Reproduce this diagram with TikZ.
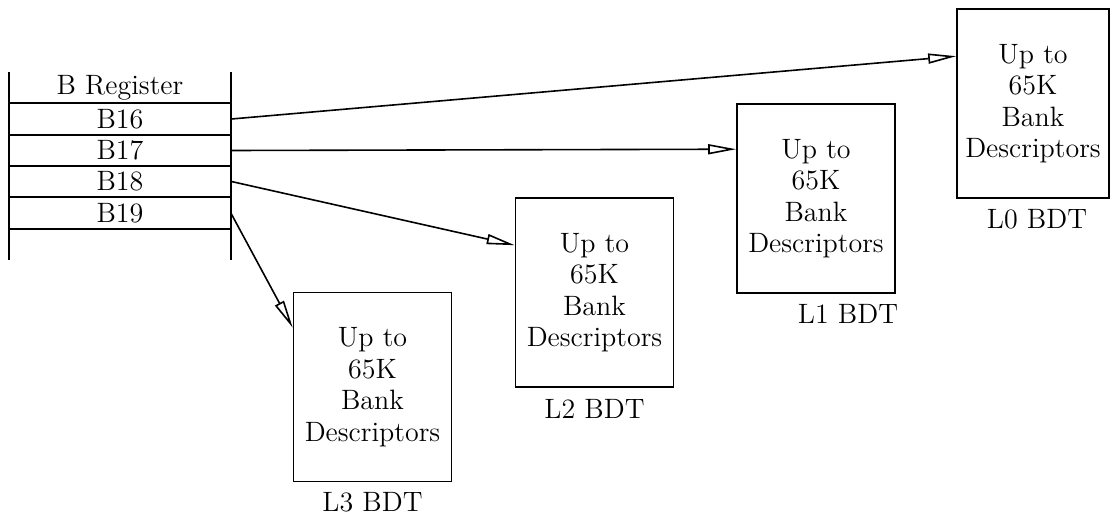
\documentclass[tikz,border=0pt]{standalone}
\usetikzlibrary{arrows.meta,calc}
\begin{document}
\begin{tikzpicture}[x=0.5pt,y=-0.5pt,
  rule/.style={line width=0.8pt},
  txt/.style={font=\fontsize{14}{15.75}\selectfont},
  bdt/.style={draw, rule, txt, align=center, inner sep=0pt,
    minimum width=79pt, minimum height=94.5pt},
  regrow/.style={txt, inner sep=0pt, minimum width=111pt, minimum height=15.5pt},
  ptr/.style={rule, -{Triangle[open, length=14pt, width=5pt, line width=0.8pt]}}]

\fill[white] (0,0) rectangle (1110,514);
\useasboundingbox (0,0) rectangle (1110,514);

% B register
\draw[rule] (9,72) -- (9,260);
\draw[rule] (231,72) -- (231,260);
\foreach \yy in {103,135,166,197,229}
  \draw[rule] (9,\yy) -- (231,\yy);
\node[txt] (hdr) at (120,87.5) {B Register};
\node[regrow] (b16) at (120,119) {B16};
\node[regrow] (b17) at (120,150.5) {B17};
\node[regrow] (b18) at (120,181.5) {B18};
\node[regrow] (b19) at (120,213) {B19};

% bank descriptor tables
\node[bdt, minimum width=76pt] (l0) at (1033,103.5) {Up to\\65K\\Bank\\Descriptors};
\node[bdt] (l1) at (816,198.5) {Up to\\65K\\Bank\\Descriptors};
\node[bdt] (l2) at (594.5,292.5) {Up to\\65K\\Bank\\Descriptors};
\node[bdt] (l3) at (372.5,387) {Up to\\65K\\Bank\\Descriptors};

\node[txt] (l0lab) at ($(l0.south)+(4,20)$) {L0 BDT};
\node[txt] (l1lab) at ($(l1.south)+(32,20)$) {L1 BDT};
\node[txt] (l2lab) at ($(l2.south)+(0,21)$) {L2 BDT};
\node[txt] (l3lab) at ($(l3.south)+(0,20)$) {L3 BDT};

% pointers from the register entries
\draw[ptr] (b16.east) -- ($(l0.north west)+(0,48)$);
\draw[ptr] (b17.east) -- ($(l1.north west)+(0,46)$);
\draw[ptr] (b18.east) -- ($(l2.north west)+(0,48)$);
\draw[ptr] ($(b19.east)+(0,1)$) -- ($(l3.north west)+(0,36)$);
\end{tikzpicture}
\end{document}
